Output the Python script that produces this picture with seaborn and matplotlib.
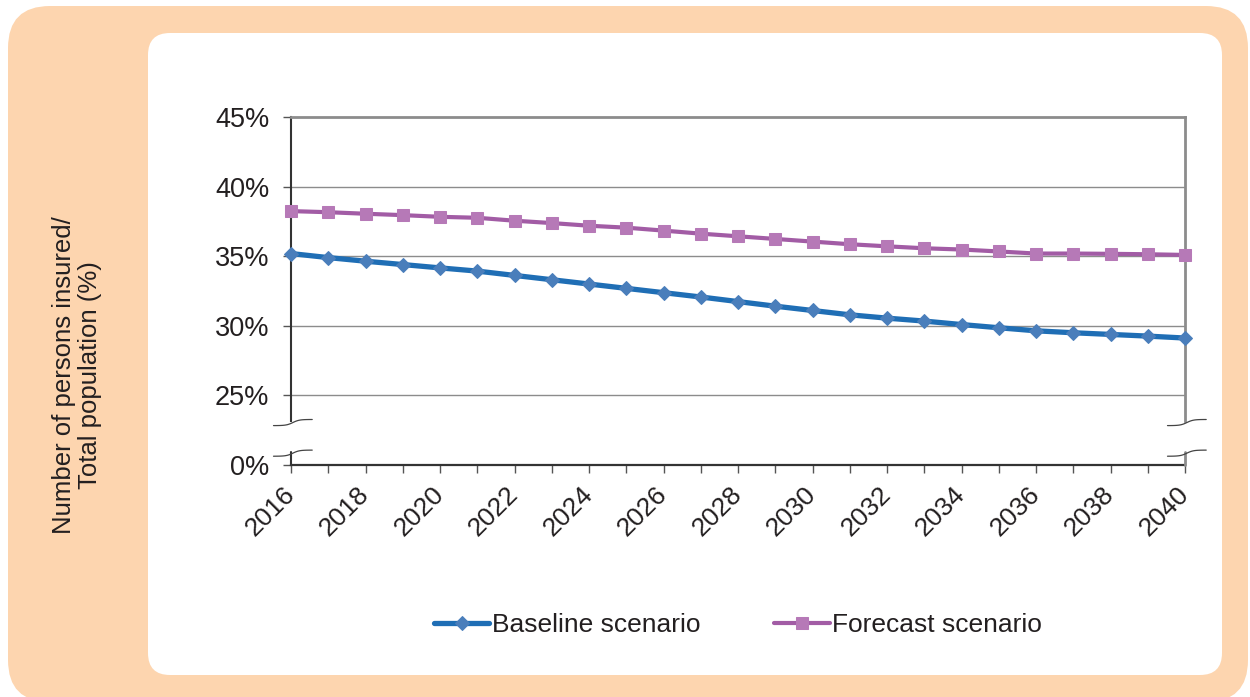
import matplotlib
matplotlib.use("Agg")
import matplotlib.pyplot as plt
import numpy as np
import pandas as pd
import seaborn as sns
from matplotlib.patches import FancyBboxPatch
from matplotlib.transforms import IdentityTransform

# data (%)
years = list(range(2016, 2041))
baseline = [35.19, 34.90, 34.64, 34.40, 34.16, 33.93, 33.62, 33.31, 33.00,
            32.69, 32.38, 32.07, 31.74, 31.41, 31.10, 30.79, 30.55, 30.34,
            30.09, 29.86, 29.64, 29.50, 29.38, 29.26, 29.12]
forecast = [38.24, 38.16, 38.05, 37.95, 37.83, 37.76, 37.55, 37.38, 37.19,
            37.05, 36.84, 36.62, 36.43, 36.24, 36.05, 35.86, 35.71, 35.57,
            35.48, 35.34, 35.19, 35.19, 35.17, 35.14, 35.09]
y_ticks = [20, 25, 30, 35, 40, 45]
y_labels = ["0%", "25%", "30%", "35%", "40%", "45%"]
series_names = ["Baseline scenario", "Forecast scenario"]

PEACH = "#FDD5AF"
TEXT = "#231F20"

df = pd.DataFrame({
    "year": years * 2,
    "value": baseline + forecast,
    "scenario": [series_names[0]] * len(years) + [series_names[1]] * len(years),
})

sns.set_theme(style="white")
plt.rcParams["font.family"] = ["Liberation Sans", "DejaVu Sans"]

W, H = 1250, 697
fig = plt.figure(figsize=(W / 100, H / 100), dpi=100)
fig.patch.set_facecolor("white")

# background panels (pixel coordinates, origin bottom-left)
outer = FancyBboxPatch((8, H - 702), 1240, 696,
                       boxstyle="round,pad=0,rounding_size=42",
                       transform=IdentityTransform(), facecolor=PEACH,
                       edgecolor="none", zorder=-2)
inner = FancyBboxPatch((148, H - 675), 1074, 642,
                       boxstyle="round,pad=0,rounding_size=22",
                       transform=IdentityTransform(), facecolor="white",
                       edgecolor="none", zorder=-1)
fig.patches.extend([outer, inner])

ax = fig.add_axes([291 / W, 1 - 465 / H, (1185 - 291) / W, (465 - 117) / H])
ax.set_facecolor("none")
ax.set_zorder(1)

styles = {
    series_names[0]: dict(color="#1F6EB5", marker="D", markersize=7,
                          markerfacecolor="#4A7EBB", markeredgecolor="#4A7EBB",
                          linewidth=3.8),
    series_names[1]: dict(color="#A25CA5", marker="s", markersize=8.5,
                          markerfacecolor="#B679B7", markeredgecolor="#B679B7",
                          linewidth=3.0),
}
for name in series_names:
    sub = df[df["scenario"] == name]
    sns.lineplot(data=sub, x="year", y="value", ax=ax, label=name,
                 clip_on=False, zorder=3, **styles[name])

ax.set_xlim(2016, 2040)
ax.set_ylim(20, 45)
ax.set_yticks(y_ticks)
ax.set_yticklabels(y_labels, fontsize=19.5, color=TEXT)
ax.set_xticks(years)
ax.set_xticklabels([str(y) if y % 2 == 0 else "" for y in years],
                   fontsize=19, color=TEXT, rotation=45, ha="right",
                   rotation_mode="anchor", va="center")
ax.tick_params(axis="both", direction="out", length=5.5, width=1,
               color="#555555", left=True, bottom=True)
ax.tick_params(axis="x", pad=13)
ax.tick_params(axis="y", pad=10)

for yv in y_ticks[1:-1]:
    ax.axhline(yv, color="#8C8C8C", linewidth=1, zorder=1)

ax.spines["top"].set_color("#8C8C8C")
ax.spines["top"].set_linewidth(2)
ax.spines["right"].set_color("#8C8C8C")
ax.spines["right"].set_linewidth(2)
ax.spines["left"].set_color("#333333")
ax.spines["left"].set_linewidth(1.5)
ax.spines["bottom"].set_color("#333333")
ax.spines["bottom"].set_linewidth(1.6)

# axis break: spines broken between the 0% and 25% levels
ax.spines["left"].set_bounds(23.15, 45)
ax.spines["right"].set_bounds(23.15, 45)
ax.plot([2016, 2016], [20, 20.95], color="#333333", lw=1.5, clip_on=False, zorder=4)
ax.plot([2040, 2040], [20, 20.95], color="#8C8C8C", lw=2, clip_on=False, zorder=4)

t = np.linspace(-1, 1, 40)
sq_x = t * 0.52
sq_y = 0.22 * np.tanh(3 * t)
for xb in (2016, 2040):
    for yb in (23.05, 20.85):
        ax.plot(xb + sq_x + 0.05, yb + sq_y, color="#444444", lw=0.9,
                clip_on=False, zorder=4)

ax.set_xlabel("")
ax.set_ylabel("")
ax.get_legend().remove()

fig.text(77 / W, 1 - 375 / H, "Number of persons insured/\nTotal population (%)",
         rotation=90, ha="center", va="center", fontsize=18.5, color=TEXT,
         linespacing=1.15)

handles, labels = ax.get_legend_handles_labels()
fig.legend(handles, labels, loc="center", bbox_to_anchor=(738 / W, 1 - 625 / H),
           ncol=2, frameon=False, fontsize=19, handlelength=2.1,
           handletextpad=0.1, columnspacing=2.8, labelcolor=TEXT)

fig.savefig("out.png", dpi=100)
